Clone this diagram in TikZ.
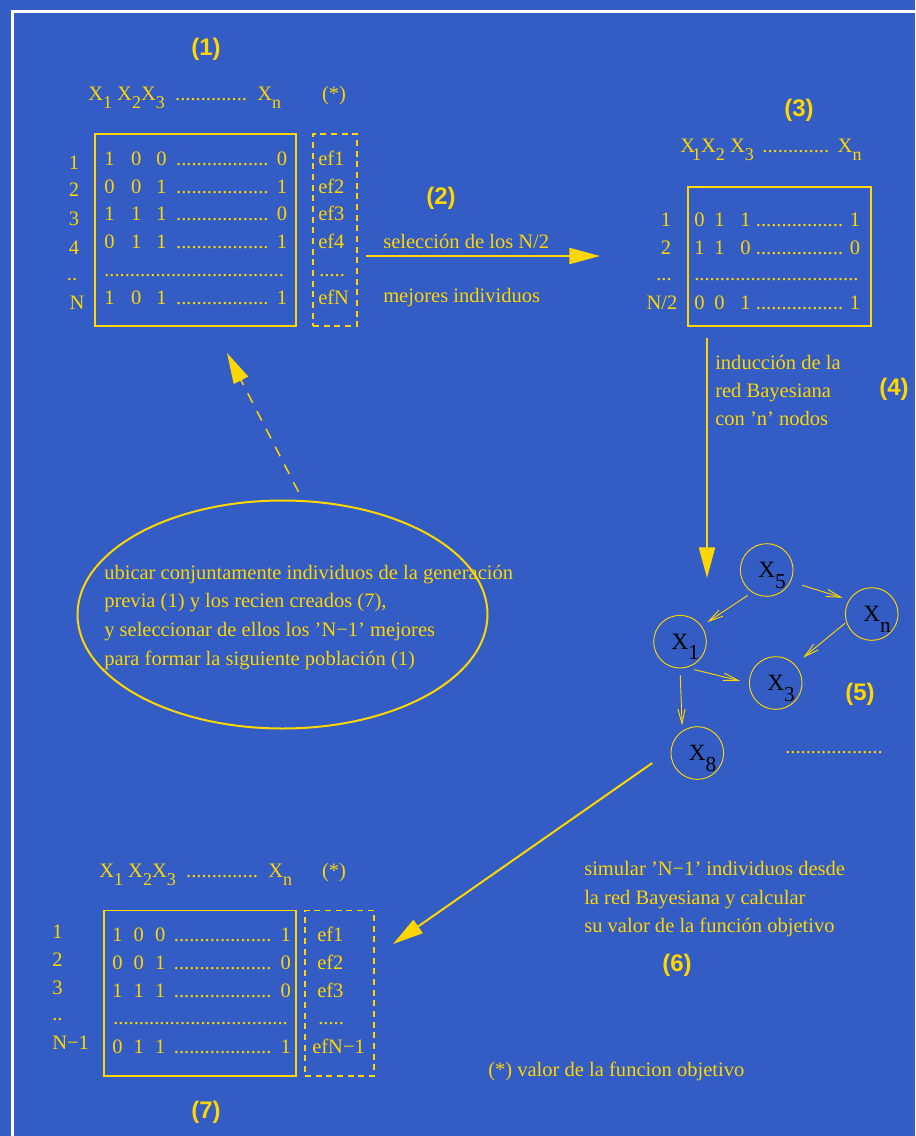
\documentclass[tikz,border=0pt]{standalone}
\usepackage{fontspec}
\setmainfont{Liberation Serif}
\newfontfamily\etiqfont{Liberation Sans}
\usetikzlibrary{arrows.meta,shapes.geometric}

\definecolor{fondo}{RGB}{51,92,196}
\definecolor{oro}{RGB}{255,214,0}

% subindice bajado y fila de la matriz de individuos
\newcommand{\bajo}[1]{\raisebox{-0.42em}{\fontsize{13.5}{14}\selectfont #1}}
\newcommand{\bajored}[1]{\raisebox{-0.45em}{\fontsize{16}{17}\selectfont #1}}
\newcommand{\puntos}{\leaders\hbox{.}\hfill}
\newcommand{\fila}[7]{\hbox to #1{\hbox to #2{#4\hss}\hbox to #3{#5\hss}#6\ \puntos\ #7}}
\newcommand{\cabecera}{X\bajo{1}\ X\bajo{2}X\bajo{3}\ \ ..............\ \ X\bajo{n}}

\begin{document}
\begin{tikzpicture}[
    x=0.75pt, y=-0.75pt,
    txt/.style={text=oro, font=\fontsize{15.4}{18.5}\selectfont, inner sep=0pt},
    num/.style={text=oro, font=\etiqfont\bfseries\fontsize{18}{20}\selectfont, inner sep=0pt},
    caja/.style={draw=oro, line width=1.1pt, inner sep=0pt},
    punt/.style={caja, line width=0.9pt, dash pattern=on 4.5pt off 3.5pt},
    nodo/.style={circle, draw=oro, line width=0.7pt, minimum size=39.5pt, inner sep=0pt, text=black, font=\fontsize{17.5}{19}\selectfont, text height=11.6pt, text depth=0pt},
    flecha/.style={draw=oro, line width=1.5pt, -{Triangle[length=23pt,width=12pt]}},
    arco/.style={draw=oro, line width=0.7pt, -{Straight Barb[length=11pt,width=5.5pt]}}
]
\fill[fondo] (0,0) rectangle (915,1136);
\useasboundingbox (0,0) rectangle (915,1136);
\clip (0,0) rectangle (915,1136);
\draw[white, line width=2.25pt] (12.5,11.5) rectangle (980,1200);

% (1) poblacion inicial
\node[num] (n1) at (206,49) {(1)};
\node[txt, anchor=base west] (cab1) at (88,100) {\cabecera};
\node[txt, anchor=base] (ast1) at (334,100) {(*)};
\node[caja, minimum width=150.75pt, minimum height=144pt] (caja1) at (195.5,230) {};
\node[punt, minimum width=33pt, minimum height=144pt] (punt1) at (335,230) {};
\node[txt, anchor=base] (i1a) at (74,169) {1};
\node[txt, anchor=base] (i1b) at (74,196) {2};
\node[txt, anchor=base] (i1c) at (74,225) {3};
\node[txt, anchor=base] (i1d) at (74,254) {4};
\node[txt, anchor=base] (i1e) at (72,280) {..};
\node[txt, anchor=base] (i1f) at (77,309) {N};
\node[txt, anchor=base west] (f1a) at (104,165) {\fila{137.25pt}{20.25pt}{18.75pt}{1}{0}{0}{0}};
\node[txt, anchor=base west] (f1b) at (104,193) {\fila{137.25pt}{20.25pt}{18.75pt}{0}{0}{1}{1}};
\node[txt, anchor=base west] (f1c) at (104,220) {\fila{137.25pt}{20.25pt}{18.75pt}{1}{1}{1}{0}};
\node[txt, anchor=base west] (f1d) at (104,248) {\fila{137.25pt}{20.25pt}{18.75pt}{0}{1}{1}{1}};
\node[txt, anchor=base west] (f1e) at (104,276) {\hbox to 137.25pt{\puntos}};
\node[txt, anchor=base west] (f1f) at (104,304) {\fila{137.25pt}{20.25pt}{18.75pt}{1}{0}{1}{1}};
\node[txt, anchor=base west] (e1a) at (318,165) {ef1};
\node[txt, anchor=base west] (e1b) at (318,193) {ef2};
\node[txt, anchor=base west] (e1c) at (318,220) {ef3};
\node[txt, anchor=base west] (e1d) at (318,248) {ef4};
\node[txt, anchor=base west] (e1e) at (319,276) {.....};
\node[txt, anchor=base west] (e1f) at (318,304) {efN};

% (2) seleccion
\node[num] (n2) at (441,198) {(2)};
\node[txt, anchor=base west] (sel1) at (383,248) {selección de los N/2};
\node[txt, anchor=base west] (sel2) at (383,302) {mejores individuos};
\coordinate (a2i) at (366,256);
\coordinate (a2f) at (600,256);
\draw[flecha] (a2i) -- (a2f);

% (3) los N/2 mejores
\node[num] (n3) at (799,110) {(3)};
\node[txt, anchor=base west] (cab3) at (680,152) {X\kern-2.25pt\bajo{1}X\bajo{2}\ X\bajo{3}\ \,.............\ \,X\bajo{n}};
\node[caja, minimum width=137.25pt, minimum height=104.25pt] (caja3) at (779.5,256.5) {};
\node[txt, anchor=base] (i3a) at (666,226) {1};
\node[txt, anchor=base] (i3b) at (666,254) {2};
\node[txt, anchor=base] (i3c) at (664,280) {...};
\node[txt, anchor=base] (i3d) at (662,309) {N/2};
\node[txt, anchor=base west] (f3a) at (694,226) {\fila{124.5pt}{15pt}{19.5pt}{0}{1}{1}{1}};
\node[txt, anchor=base west] (f3b) at (694,254) {\fila{124.5pt}{15pt}{19.5pt}{1}{1}{0}{0}};
\node[txt, anchor=base west] (f3c) at (694,280) {\hbox to 124.5pt{\puntos}};
\node[txt, anchor=base west] (f3d) at (694,309) {\fila{124.5pt}{15pt}{19.5pt}{0}{0}{1}{1}};

% (4) induccion de la red
\node[num] (n4) at (894,389) {(4)};
\node[txt, anchor=base west] (ind1) at (715,369) {inducción de la};
\node[txt, anchor=base west] (ind2) at (715,397) {red Bayesiana};
\node[txt, anchor=base west] (ind3) at (715,425) {con 'n' nodos};
\coordinate (a4i) at (707,338);
\coordinate (a4f) at (707,578);
\draw[flecha] (a4i) -- (a4f);

% (5) red Bayesiana
\node[num] (n5) at (860,694) {(5)};
\node[nodo] (x5) at (766.7,570) {X\rlap{\bajored{5}}};
\node[nodo] (xn) at (871.7,614) {X\rlap{\bajored{n}}};
\node[nodo] (x1) at (680,641.7) {X\rlap{\bajored{1}}};
\node[nodo] (x3) at (775.7,683) {X\rlap{\bajored{3}}};
\node[nodo] (x8) at (697.3,753) {X\rlap{\bajored{8}}};
\node[txt, anchor=base west] (resto) at (785,753) {...................};
\draw[arco, shorten <=4pt, shorten >=5pt] (x5.237) -- (x1.36);
\draw[arco, shorten <=9pt, shorten >=5pt] (x5.-26) -- (xn.148);
\draw[arco, shorten <=1pt, shorten >=8pt] (xn.198) -- (x3.44);
\draw[arco, shorten <=6pt, shorten >=7pt] (x1.-76) -- (x3.180);
\draw[arco, shorten <=5pt, shorten >=4pt] (x1.-90) -- (x8.124);

% (6) simulacion
\node[num] (n6) at (677,965) {(6)};
\node[txt, anchor=base west] (sim1) at (584,875) {simular 'N−1' individuos desde};
\node[txt, anchor=base west] (sim2) at (584,904) {la red Bayesiana y calcular};
\node[txt, anchor=base west] (sim3) at (584,932) {su valor de la función objetivo};
\node[txt, anchor=base west] (nota) at (488,1076) {(*) valor de la funcion objetivo};
\coordinate (a6f) at (393,944);
\draw[flecha, shorten <=16.8pt] (x8.174) -- (a6f);

% (7) individuos simulados
\node[num] (n7) at (206,1112) {(7)};
\node[txt, anchor=base west] (cab7) at (99,877) {\cabecera};
\node[txt, anchor=base] (ast7) at (334,877) {(*)};
\node[caja, minimum width=144pt, minimum height=124pt] (caja7) at (200,993.4) {};
\node[punt, minimum width=51.75pt, minimum height=124pt] (punt7) at (339.5,993.4) {};
\node[txt, anchor=base west] (i7a) at (52,938) {1};
\node[txt, anchor=base west] (i7b) at (52,966) {2};
\node[txt, anchor=base west] (i7c) at (52,994) {3};
\node[txt, anchor=base west] (i7d) at (52,1020) {..};
\node[txt, anchor=base west] (i7e) at (52,1049) {N−1};
\node[txt, anchor=base west] (f7a) at (112,941) {\fila{134pt}{16.1pt}{16pt}{1}{0}{0}{1}};
\node[txt, anchor=base west] (f7b) at (112,969) {\fila{134pt}{16.1pt}{16pt}{0}{0}{1}{0}};
\node[txt, anchor=base west] (f7c) at (112,997) {\fila{134pt}{16.1pt}{16pt}{1}{1}{1}{0}};
\node[txt, anchor=base west] (f7d) at (113,1024) {\hbox to 131pt{\puntos}};
\node[txt, anchor=base west] (f7e) at (112,1053) {\fila{134pt}{16.1pt}{16pt}{0}{1}{1}{1}};
\node[txt, anchor=base west] (e7a) at (317,941) {ef1};
\node[txt, anchor=base west] (e7b) at (317,969) {ef2};
\node[txt, anchor=base west] (e7c) at (317,997) {ef3};
\node[txt, anchor=base west] (e7d) at (318,1024) {.....};
\node[txt, anchor=base west] (e7e) at (312,1053) {efN−1};

% nueva poblacion
\node[caja, ellipse, line width=1.5pt, minimum width=307.5pt, minimum height=171pt] (elip) at (282.5,614.5) {};
\node[txt, anchor=base west] (ub1) at (104,579) {ubicar conjuntamente individuos de la generación};
\node[txt, anchor=base west] (ub2) at (104,607.5) {previa (1) y los recien creados (7),};
\node[txt, anchor=base west] (ub3) at (104,636) {y seleccionar de ellos los 'N−1' mejores};
\node[txt, anchor=base west] (ub4) at (104,665) {para formar la siguiente población (1)};
\coordinate (a1f) at (227,353);
\draw[flecha, line width=1.1pt, dash pattern=on 8pt off 7pt, shorten <=7pt] (elip.80) -- (a1f);
\end{tikzpicture}
\end{document}
